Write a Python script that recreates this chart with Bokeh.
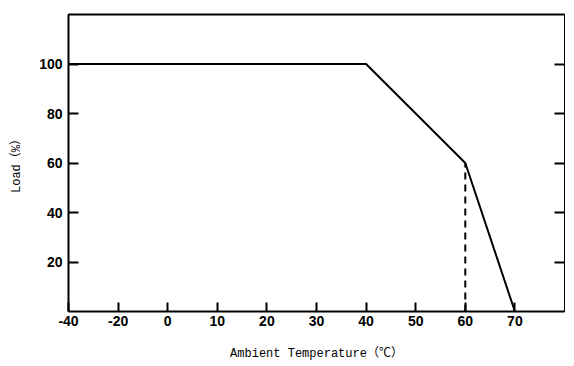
from bokeh.plotting import figure
from bokeh.models import Range1d, LinearAxis, FixedTicker
from bokeh.embed import file_html
from bokeh.resources import INLINE

# Data
temps = [-40, 40, 60, 70]
loads = [100, 100, 60, 0]
dash_temps = [60, 60]
dash_loads = [0, 60]
x_tick_values = [-40, -20, 0, 10, 20, 30, 40, 50, 60, 70]
y_tick_values = [20, 40, 60, 80, 100]


def axis_pos(t):
    # broken temperature axis: below 0 the scale is compressed by half
    return t if t >= 0 else t / 2.0


p = figure(width=566, height=363, output_backend="svg", toolbar_location=None,
           x_range=Range1d(-20, 80), y_range=Range1d(0, 120),
           min_border_left=68, min_border_right=2, min_border_top=14, min_border_bottom=52)
p.grid.visible = False
p.outline_line_color = "black"
p.outline_line_width = 1
p.background_fill_color = "white"
p.border_fill_color = "white"

p.line([axis_pos(t) for t in temps], loads, line_color="black", line_width=2)
p.line([axis_pos(t) for t in dash_temps], dash_loads, line_color="black",
       line_width=2, line_dash="7 5")

tick_font = "Liberation Sans"
label_font = "Liberation Mono, Noto Sans CJK SC"

xa = p.xaxis[0]
xa.ticker = FixedTicker(ticks=[axis_pos(t) for t in x_tick_values])
xa.major_label_overrides = {axis_pos(t): str(t) for t in x_tick_values}
xa.axis_line_width = 2
xa.major_tick_in = 9
xa.major_tick_out = 0
xa.major_tick_line_width = 2
xa.minor_tick_line_color = None
xa.major_label_text_font = tick_font
xa.major_label_text_font_style = "bold"
xa.major_label_text_font_size = "14px"
xa.major_label_text_color = "black"
xa.major_label_standoff = 4
xa.axis_label = "Ambient Temperature（℃）"
xa.axis_label_text_font = label_font
xa.axis_label_text_font_style = "normal"
xa.axis_label_text_font_size = "12px"
xa.axis_label_text_color = "black"
xa.axis_label_standoff = 18

ya = p.yaxis[0]
ya.ticker = FixedTicker(ticks=y_tick_values)
ya.axis_line_width = 2
ya.major_tick_in = 10
ya.major_tick_out = 0
ya.major_tick_line_width = 2
ya.minor_tick_line_color = None
ya.major_label_text_font = tick_font
ya.major_label_text_font_style = "bold"
ya.major_label_text_font_size = "14px"
ya.major_label_text_color = "black"
ya.major_label_standoff = 6
ya.axis_label = "Load（%）"
ya.axis_label_text_font = label_font
ya.axis_label_text_font_style = "normal"
ya.axis_label_text_font_size = "12px"
ya.axis_label_text_color = "black"
ya.axis_label_standoff = 12

right = LinearAxis(ticker=FixedTicker(ticks=y_tick_values))
right.major_label_overrides = {v: "" for v in y_tick_values}
right.axis_line_width = 1
right.major_tick_in = 10
right.major_tick_out = 0
right.major_tick_line_width = 2
right.minor_tick_line_color = None
right.major_label_standoff = 0
p.add_layout(right, "right")

top = LinearAxis(ticker=FixedTicker(ticks=[]))
top.axis_line_width = 2
top.major_tick_line_color = None
top.minor_tick_line_color = None
top.major_label_standoff = 0
p.add_layout(top, "above")

open("out.html", "w").write(file_html(p, INLINE))
